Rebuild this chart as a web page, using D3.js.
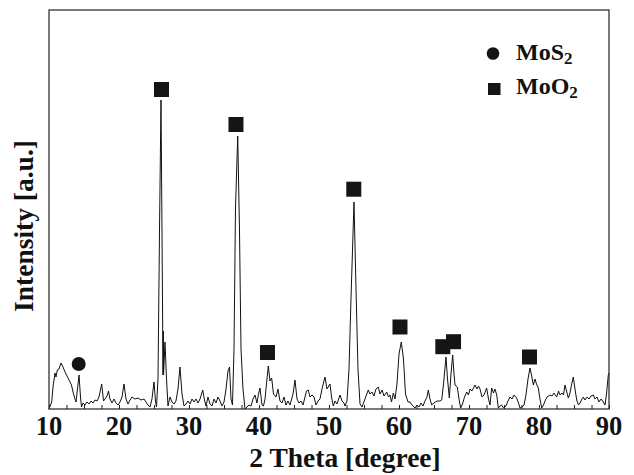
<!DOCTYPE html>
<html lang="en">
	<head>
		<meta charset="utf-8">
		<title>XRD pattern</title>
		<script type="text/javascript" src="https://cdnjs.cloudflare.com/ajax/libs/d3/7.8.5/d3.min.js"></script>
		<style type="text/css">
			body { margin: 0; background: #fff; }
			text { font-family: "Liberation Serif", "Times New Roman", serif; font-weight: bold; fill: #111; }
		</style>
	</head>
	<body>
		<script type="text/javascript">
			// scan
			var twoTheta = [10.0,10.21,10.39,10.57,10.86,11.0,11.19,11.43,11.71,12.0,12.29,12.57,12.79,13.0,13.21,13.43,13.71,13.86,14.07,14.29,14.5,14.64,14.86,15.14,15.43,15.71,16.0,16.29,16.57,16.86,17.14,17.53,17.79,18.0,18.29,18.5,18.71,19.0,19.29,19.57,19.86,20.14,20.43,20.71,21.0,21.29,21.57,21.86,22.29,22.71,23.14,23.57,23.86,24.14,24.43,24.71,25.0,25.21,25.36,25.57,25.79,26.0,26.14,26.29,26.33,26.36,26.57,26.79,27.0,27.29,27.57,27.86,28.14,28.43,28.71,29.0,29.29,29.57,29.86,30.14,30.43,30.71,31.0,31.29,31.57,31.96,32.21,32.43,32.71,33.0,33.29,33.57,33.86,34.14,34.43,34.71,35.0,35.29,35.57,35.79,36.0,36.21,36.43,36.64,36.96,37.21,37.43,37.71,38.0,38.29,38.57,38.86,39.14,39.43,39.71,39.93,40.14,40.43,40.64,40.86,41.14,41.33,41.57,41.81,42.07,42.43,42.71,43.0,43.29,43.57,43.86,44.14,44.43,44.86,45.14,45.43,45.71,46.0,46.29,46.57,46.79,47.04,47.29,47.57,47.86,48.14,48.43,48.71,49.0,49.43,49.71,50.14,50.36,50.61,50.86,51.14,51.57,51.86,52.14,52.29,52.57,52.86,53.14,53.57,53.86,54.14,54.43,54.71,54.93,55.14,55.61,55.86,56.14,56.43,56.71,57.04,57.29,57.57,57.86,58.24,58.5,58.71,58.93,59.19,59.43,59.71,60.0,60.33,60.64,60.93,61.29,61.57,61.86,62.29,62.57,62.86,63.14,63.43,63.71,64.0,64.19,64.43,64.67,65.0,65.43,65.86,66.1,66.36,66.71,66.93,67.19,67.43,67.67,67.86,68.0,68.33,68.57,68.81,69.07,69.36,69.67,69.93,70.14,70.43,70.86,71.14,71.36,71.57,71.86,72.14,72.52,72.79,73.0,73.24,73.5,73.71,73.96,74.19,74.43,74.67,74.93,75.29,75.57,75.86,76.14,76.43,76.81,77.07,77.29,77.57,77.86,78.14,78.43,78.71,78.93,79.19,79.43,79.64,79.9,80.14,80.39,80.64,80.86,81.14,81.57,81.86,82.14,82.53,82.79,83.0,83.29,83.5,83.71,83.93,84.19,84.43,84.64,84.9,85.14,85.39,85.64,85.86,86.14,86.33,86.57,86.86,87.14,87.43,87.76,88.0,88.29,88.57,88.86,89.19,89.43,89.64,89.9,90.0];
			var intensity = [0,4,7,22,36,32,39,40,46,42,37,33,30,27,24,17,10,7,20,34,12,2,6,4,7,5,8,6,9,8,12,25,8,10,13,18,10,6,10,6,4,7,12,25,10,5,9,12,10,11,9,10,7,4,2,10,27,8,2,30,180,309,180,34,78,34,67,30,3,12,7,5,8,20,42,15,3,5,8,5,10,7,10,6,10,19,9,3,12,5,3,10,6,12,8,3,7,20,38,42,10,4,60,200,273,180,60,20,0,2,4,3,10,14,6,15,21,4,3,10,30,43,28,31,15,12,20,8,6,12,4,8,4,15,29,10,6,8,4,12,18,19,12,14,12,4,8,10,20,32,20,25,12,3,8,5,14,8,6,3,8,40,110,207,120,40,5,2,6,10,19,15,17,13,20,22,15,19,13,17,12,14,7,16,10,25,55,67,50,15,7,7,4,1,4,2,6,3,8,12,19,10,4,6,8,8,9,25,52,30,11,35,54,35,24,22,10,1,5,12,17,14,20,18,24,20,23,20,12,14,21,10,4,21,16,20,14,1,3,4,1,3,8,12,10,14,11,6,1,2,4,14,30,41,34,24,30,25,21,10,1,4,8,12,14,13,16,12,18,14,16,14,24,18,11,16,24,32,20,9,4,6,10,12,9,12,10,13,14,10,12,7,10,7,4,15,34,36];

			// phase markers [2theta, intensity]
			var moo2Theta = [26.07, 36.71, 41.21, 53.54, 60.14, 66.26, 67.79, 78.64];
			var moo2Level = [319.5, 284.5, 56.5, 219.8, 82, 62.3, 67.3, 52];
			var mos2Theta = [14.24];
			var mos2Level = [45];

			var xTicks = [10, 20, 30, 40, 50, 60, 70, 80, 90];

			var W = 634, H = 475;
			var pLeft = 49, pTop = 10, pRight = 609, pBottom = 409;

			var svg = d3.select("body").append("svg")
				.attr("width", W)
				.attr("height", H);

			var x = d3.scaleLinear().domain([10, 90]).range([pLeft, pRight]);
			var y = d3.scaleLinear().domain([0, 399]).range([pBottom, pTop]);

			var scan = twoTheta.map(function(t, i) { return [t, intensity[i]]; });

			svg.append("path")
				.datum(scan)
				.attr("fill", "none")
				.attr("stroke", "#111")
				.attr("stroke-width", 1)
				.attr("stroke-linejoin", "round")
				.attr("d", d3.line()
					.x(function(d) { return x(d[0]); })
					.y(function(d) { return y(d[1]); }));

			// bottom axis: inward ticks every 2.5 deg, labels every 10
			var ax = svg.append("g")
				.attr("transform", "translate(0," + pBottom + ")")
				.call(d3.axisBottom(x)
					.tickValues(d3.range(10, 90.1, 2.5))
					.tickSizeInner(-4)
					.tickSizeOuter(0)
					.tickFormat(""));
			ax.select(".domain").remove();
			ax.selectAll(".tick line").attr("stroke", "#222");

			svg.selectAll("text.xlab")
				.data(xTicks)
				.enter()
				.append("text")
				.attr("class", "xlab")
				.attr("x", function(d) { return x(d); })
				.attr("y", 435)
				.attr("text-anchor", "middle")
				.attr("font-size", "26.5px")
				.text(function(d) { return d; });

			svg.append("rect")
				.attr("x", pLeft)
				.attr("y", pTop)
				.attr("width", pRight - pLeft)
				.attr("height", pBottom - pTop)
				.attr("fill", "none")
				.attr("stroke", "#222")
				.attr("stroke-width", 1.2);

			// markers
			var sq = 15;
			svg.selectAll("rect.moo2")
				.data(moo2Theta)
				.enter()
				.append("rect")
				.attr("class", "moo2")
				.attr("x", function(d) { return x(d) - sq / 2; })
				.attr("y", function(d, i) { return y(moo2Level[i]) - sq / 2; })
				.attr("width", sq)
				.attr("height", sq)
				.attr("fill", "#151515");

			svg.selectAll("circle.mos2")
				.data(mos2Theta)
				.enter()
				.append("circle")
				.attr("class", "mos2")
				.attr("cx", function(d) { return x(d); })
				.attr("cy", function(d, i) { return y(mos2Level[i]); })
				.attr("r", 7)
				.attr("fill", "#151515");

			// legend
			svg.append("circle")
				.attr("cx", 493).attr("cy", 53.5).attr("r", 6.3)
				.attr("fill", "#151515");
			svg.append("rect")
				.attr("x", 488).attr("y", 83).attr("width", 12.5).attr("height", 12)
				.attr("fill", "#151515");

			var l1 = svg.append("text").attr("x", 516).attr("y", 60).attr("font-size", "24px");
			l1.append("tspan").text("MoS");
			l1.append("tspan").attr("font-size", "17px").attr("dy", 4).text("2");
			var l2 = svg.append("text").attr("x", 516).attr("y", 94).attr("font-size", "24px");
			l2.append("tspan").text("MoO");
			l2.append("tspan").attr("font-size", "17px").attr("dy", 4).text("2");

			// axis titles
			svg.append("text")
				.attr("x", 345)
				.attr("y", 467)
				.attr("text-anchor", "middle")
				.attr("font-size", "27.5px")
				.text("2 Theta [degree]");

			svg.append("text")
				.attr("transform", "translate(33,226) rotate(-90)")
				.attr("text-anchor", "middle")
				.attr("font-size", "27.5px")
				.text("Intensity [a.u.]");
		</script>
	</body>
</html>
